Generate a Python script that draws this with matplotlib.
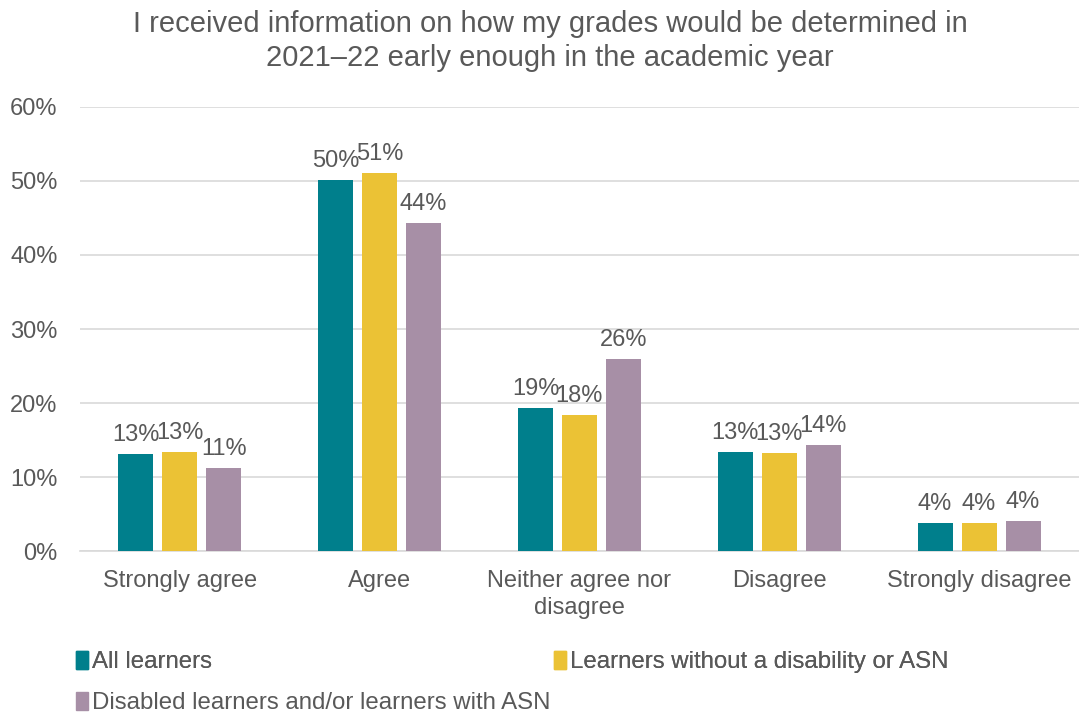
import numpy as np
import matplotlib.pyplot as plt
from matplotlib.patches import Patch

plt.rcParams['font.family'] = ['Liberation Sans', 'DejaVu Sans']

categories = ['Strongly agree', 'Agree', 'Neither agree nor\ndisagree', 'Disagree', 'Strongly disagree']
series_names = ['All learners', 'Learners without a disability or ASN',
                'Disabled learners and/or learners with ASN']
all_learners = [13.1, 50.1, 19.3, 13.4, 3.8]
without_asn = [13.4, 51.1, 18.4, 13.2, 3.8]
with_asn = [11.2, 44.3, 25.9, 14.3, 4.1]
labels_all = ['13%', '50%', '19%', '13%', '4%']
labels_without = ['13%', '51%', '18%', '13%', '4%']
labels_with = ['11%', '44%', '26%', '14%', '4%']

colors = ['#007F8C', '#EBC235', '#A78FA6']
text_col = '#595959'
grid_col = '#D9D9D9'

def main():
    fig = plt.figure(figsize=(10.79, 7.16), dpi=100)
    ax = fig.add_axes([0.074, 0.2304, 0.926, 0.6202])

    x = np.arange(len(categories))
    w = 0.175
    step = 0.22
    data = [all_learners, without_asn, with_asn]
    labs = [labels_all, labels_without, labels_with]
    for i, (vals, lab) in enumerate(zip(data, labs)):
        b = ax.bar(x + (i - 1) * step, vals, w, color=colors[i], zorder=3)
        for rect, t in zip(b, lab):
            ax.text(rect.get_x() + rect.get_width() / 2, rect.get_height() + 1.1, t,
                    ha='center', va='bottom', fontsize=17, color=text_col)

    ax.set_xlim(-0.5, len(categories) - 0.5)
    ax.set_ylim(0, 60)
    ax.set_yticks(np.arange(0, 61, 10))
    ax.set_yticklabels(['{}%'.format(v) for v in range(0, 61, 10)])
    ax.set_xticks(x)
    ax.set_xticklabels(categories, linespacing=1.25)
    ax.tick_params(axis='both', length=0, labelsize=17, labelcolor=text_col)
    ax.tick_params(axis='x', pad=14)
    ax.tick_params(axis='y', pad=16)
    ax.grid(axis='y', color=grid_col, lw=1.2, zorder=0)
    for s in ['top', 'right', 'left']:
        ax.spines[s].set_visible(False)
    ax.spines['bottom'].set_color(grid_col)
    ax.spines['bottom'].set_linewidth(1.2)

    fig.text(0.51, 0.943, 'I received information on how my grades would be determined in\n2021\u201322 early enough in the academic year',
             ha='center', va='center', fontsize=21, color=text_col, linespacing=1.3)

    h = [Patch(color=c) for c in colors]
    leg1 = fig.legend(h[:2], series_names[:2], ncol=2, loc='center left',
                      bbox_to_anchor=(0.050, 0.075), frameon=False, fontsize=17.3,
                      handlelength=0.5, handleheight=0.75, handletextpad=0.2,
                      columnspacing=14.2, labelcolor=text_col)
    fig.legend(h[2:], series_names[2:], loc='center left',
               bbox_to_anchor=(0.050, 0.018), frameon=False, fontsize=17.3,
               handlelength=0.5, handleheight=0.75, handletextpad=0.2,
               labelcolor=text_col)
    fig.add_artist(leg1)

    fig.savefig('out.png', dpi=100)

if __name__ == '__main__':
    main()
